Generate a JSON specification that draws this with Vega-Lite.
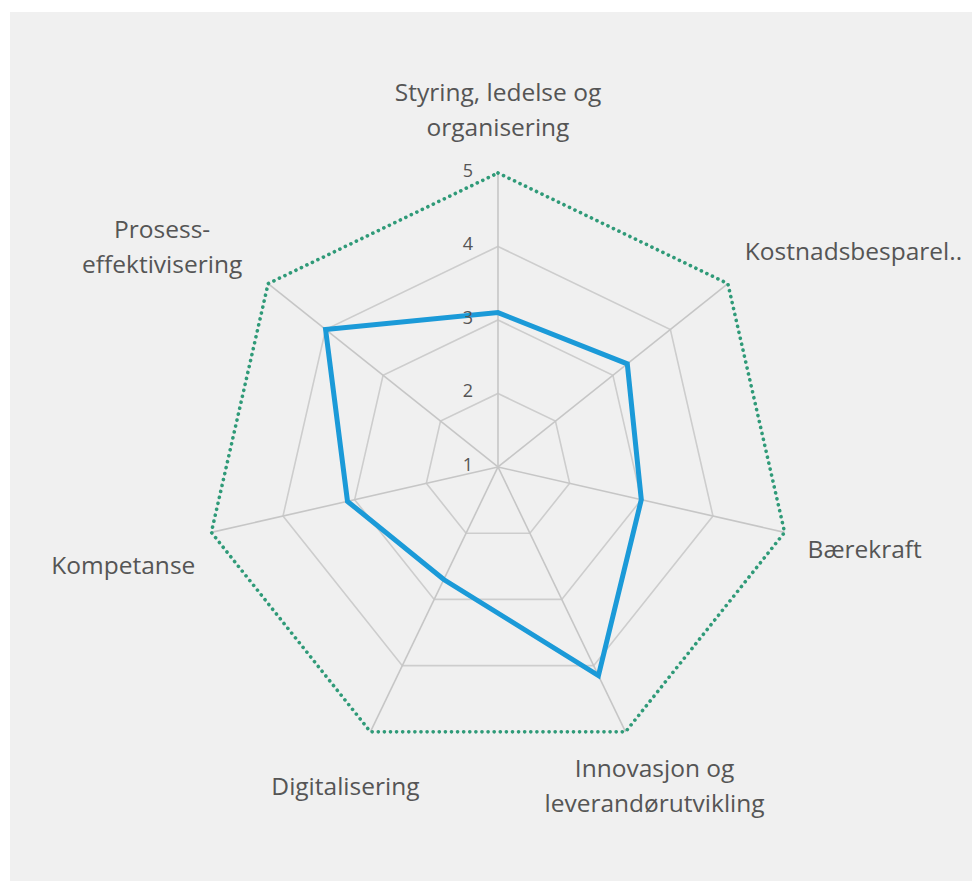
{
  "$schema": "https://vega.github.io/schema/vega-lite/v6.json",
  "width": 962,
  "height": 869,
  "autosize": {"type": "none"},
  "padding": {"left": 10, "top": 12, "right": 0, "bottom": 0},
  "background": "#ffffff",
  "config": {
    "view": {"fill": "#f0f0f0", "stroke": null},
    "text": {"font": "Open Sans", "fontSize": 24.5, "color": "#555555", "lineBreak": "\n", "lineHeight": 35}
  },
  "datasets": {
    "scores": [
      {"idx": 0, "kategori": "Styring, ledelse og organisering", "etikett": "Styring, ledelse og\norganisering", "verdi": 3.1},
      {"idx": 1, "kategori": "Kostnadsbesparelser", "etikett": "Kostnadsbesparel..", "verdi": 3.25},
      {"idx": 2, "kategori": "Bærekraft", "etikett": "Bærekraft", "verdi": 3.0},
      {"idx": 3, "kategori": "Innovasjon og leverandørutvikling", "etikett": "Innovasjon og\nleverandørutvikling", "verdi": 4.15},
      {"idx": 4, "kategori": "Digitalisering", "etikett": "Digitalisering", "verdi": 2.7},
      {"idx": 5, "kategori": "Kompetanse", "etikett": "Kompetanse", "verdi": 3.1},
      {"idx": 6, "kategori": "Prosesseffektivisering", "etikett": "Prosess-\neffektivisering", "verdi": 4.0}
    ],
    "grid": [
      {"idx": 0, "nivaa": [2, 3, 4]},
      {"idx": 1, "nivaa": [2, 3, 4]},
      {"idx": 2, "nivaa": [2, 3, 4]},
      {"idx": 3, "nivaa": [2, 3, 4]},
      {"idx": 4, "nivaa": [2, 3, 4]},
      {"idx": 5, "nivaa": [2, 3, 4]},
      {"idx": 6, "nivaa": [2, 3, 4]}
    ],
    "nivaer": [
      {"nivaa": 1}, {"nivaa": 2}, {"nivaa": 3}, {"nivaa": 4}, {"nivaa": 5}
    ]
  },
  "encoding": {
    "x": {"field": "x", "type": "quantitative", "scale": {"domain": [-6.639, 6.449], "nice": false, "zero": false}, "axis": null},
    "y": {"field": "y", "type": "quantitative", "scale": {"domain": [-5.633, 6.19], "nice": false, "zero": false}, "axis": null}
  },
  "layer": [
    {
      "data": {"name": "grid"},
      "transform": [
        {"flatten": ["nivaa"]},
        {"calculate": "datum.idx * 2 * PI / 7", "as": "vinkel"},
        {"calculate": "(datum.nivaa - 1) * sin(datum.vinkel)", "as": "x"},
        {"calculate": "(datum.nivaa - 1) * cos(datum.vinkel)", "as": "y"}
      ],
      "mark": {"type": "line", "interpolate": "linear-closed", "color": "#cdcdcd", "strokeWidth": 1.6},
      "encoding": {
        "detail": {"field": "nivaa", "type": "nominal"},
        "order": {"field": "idx", "type": "quantitative"}
      }
    },
    {
      "data": {"name": "scores"},
      "transform": [
        {"calculate": "datum.idx * 2 * PI / 7", "as": "vinkel"},
        {"calculate": "4 * sin(datum.vinkel)", "as": "x"},
        {"calculate": "4 * cos(datum.vinkel)", "as": "y"}
      ],
      "mark": {"type": "rule", "color": "#c6c6c6", "strokeWidth": 1.6},
      "encoding": {
        "x2": {"datum": 0},
        "y2": {"datum": 0}
      }
    },
    {
      "data": {"name": "scores"},
      "transform": [
        {"calculate": "datum.idx * 2 * PI / 7", "as": "vinkel"},
        {"calculate": "4 * sin(datum.vinkel)", "as": "x"},
        {"calculate": "4 * cos(datum.vinkel)", "as": "y"}
      ],
      "mark": {"type": "line", "interpolate": "linear-closed", "color": "#2f9a78", "strokeWidth": 3.6, "strokeDash": [0.1, 6], "strokeCap": "round"},
      "encoding": {
        "order": {"field": "idx", "type": "quantitative"}
      }
    },
    {
      "data": {"name": "scores"},
      "transform": [
        {"calculate": "datum.idx * 2 * PI / 7", "as": "vinkel"},
        {"calculate": "(datum.verdi - 1) * sin(datum.vinkel)", "as": "x"},
        {"calculate": "(datum.verdi - 1) * cos(datum.vinkel)", "as": "y"}
      ],
      "mark": {"type": "line", "interpolate": "linear-closed", "color": "#1b9ad8", "strokeWidth": 5, "strokeJoin": "miter"},
      "encoding": {
        "order": {"field": "idx", "type": "quantitative"}
      }
    },
    {
      "data": {"name": "nivaer"},
      "transform": [
        {"calculate": "0", "as": "x"},
        {"calculate": "datum.nivaa - 1", "as": "y"}
      ],
      "mark": {"type": "text", "align": "right", "baseline": "middle", "dx": -25, "dy": -1, "fontSize": 18},
      "encoding": {
        "text": {"field": "nivaa", "type": "quantitative"}
      }
    },
    {
      "data": {"name": "scores"},
      "transform": [
        {"filter": "datum.idx == 0"},
        {"calculate": "datum.idx * 2 * PI / 7", "as": "vinkel"},
        {"calculate": "4 * sin(datum.vinkel)", "as": "x"},
        {"calculate": "4 * cos(datum.vinkel)", "as": "y"}
      ],
      "mark": {"type": "text", "align": "center", "baseline": "alphabetic", "dx": 0, "dy": -72},
      "encoding": {"text": {"field": "etikett", "type": "nominal"}}
    },
    {
      "data": {"name": "scores"},
      "transform": [
        {"filter": "datum.idx == 1"},
        {"calculate": "datum.idx * 2 * PI / 7", "as": "vinkel"},
        {"calculate": "4 * sin(datum.vinkel)", "as": "x"},
        {"calculate": "4 * cos(datum.vinkel)", "as": "y"}
      ],
      "mark": {"type": "text", "align": "left", "baseline": "alphabetic", "dx": 17, "dy": -24},
      "encoding": {"text": {"field": "etikett", "type": "nominal"}}
    },
    {
      "data": {"name": "scores"},
      "transform": [
        {"filter": "datum.idx == 2"},
        {"calculate": "datum.idx * 2 * PI / 7", "as": "vinkel"},
        {"calculate": "4 * sin(datum.vinkel)", "as": "x"},
        {"calculate": "4 * cos(datum.vinkel)", "as": "y"}
      ],
      "mark": {"type": "text", "align": "left", "baseline": "alphabetic", "dx": 23, "dy": 26},
      "encoding": {"text": {"field": "etikett", "type": "nominal"}}
    },
    {
      "data": {"name": "scores"},
      "transform": [
        {"filter": "datum.idx == 3"},
        {"calculate": "datum.idx * 2 * PI / 7", "as": "vinkel"},
        {"calculate": "4 * sin(datum.vinkel)", "as": "x"},
        {"calculate": "4 * cos(datum.vinkel)", "as": "y"}
      ],
      "mark": {"type": "text", "align": "center", "baseline": "alphabetic", "dx": 29, "dy": 45},
      "encoding": {"text": {"field": "etikett", "type": "nominal"}}
    },
    {
      "data": {"name": "scores"},
      "transform": [
        {"filter": "datum.idx == 4"},
        {"calculate": "datum.idx * 2 * PI / 7", "as": "vinkel"},
        {"calculate": "4 * sin(datum.vinkel)", "as": "x"},
        {"calculate": "4 * cos(datum.vinkel)", "as": "y"}
      ],
      "mark": {"type": "text", "align": "center", "baseline": "alphabetic", "dx": -25, "dy": 63},
      "encoding": {"text": {"field": "etikett", "type": "nominal"}}
    },
    {
      "data": {"name": "scores"},
      "transform": [
        {"filter": "datum.idx == 5"},
        {"calculate": "datum.idx * 2 * PI / 7", "as": "vinkel"},
        {"calculate": "4 * sin(datum.vinkel)", "as": "x"},
        {"calculate": "4 * cos(datum.vinkel)", "as": "y"}
      ],
      "mark": {"type": "text", "align": "right", "baseline": "alphabetic", "dx": -16, "dy": 42},
      "encoding": {"text": {"field": "etikett", "type": "nominal"}}
    },
    {
      "data": {"name": "scores"},
      "transform": [
        {"filter": "datum.idx == 6"},
        {"calculate": "datum.idx * 2 * PI / 7", "as": "vinkel"},
        {"calculate": "4 * sin(datum.vinkel)", "as": "x"},
        {"calculate": "4 * cos(datum.vinkel)", "as": "y"}
      ],
      "mark": {"type": "text", "align": "center", "baseline": "alphabetic", "dx": -106, "dy": -46},
      "encoding": {"text": {"field": "etikett", "type": "nominal"}}
    }
  ]
}
